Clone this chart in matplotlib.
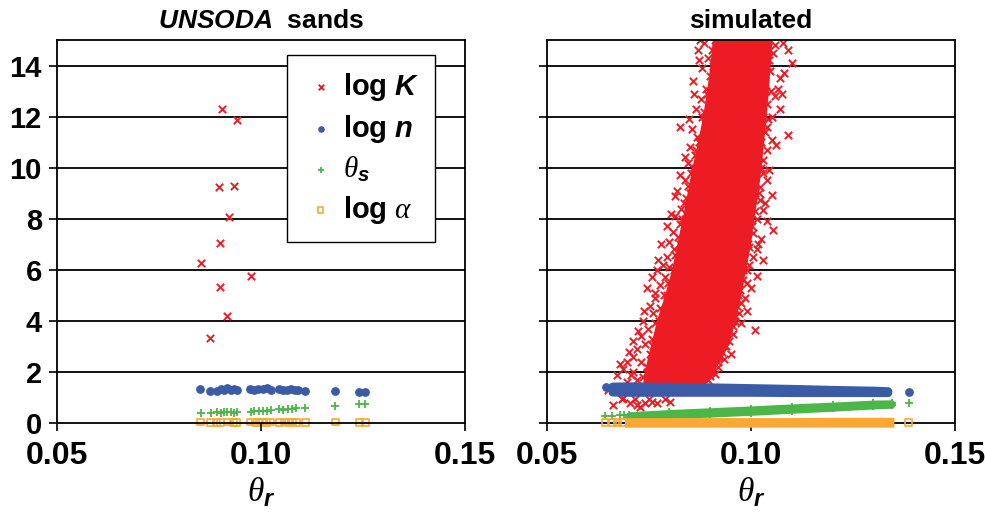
import numpy as np
import matplotlib
matplotlib.use("Agg")
import matplotlib.pyplot as plt

plt.rcParams['font.family'] = ['Liberation Sans', 'DejaVu Sans']
plt.rcParams['mathtext.fontset'] = 'custom'
plt.rcParams['mathtext.it'] = 'Liberation Sans:italic:bold'
plt.rcParams['mathtext.rm'] = 'Liberation Serif:italic'

RED, BLUE, GREEN, ORANGE = '#ED1C24', '#3B5BA7', '#4DB648', '#F9A832'

# ---- UNSODA sands (left) ----
uns_K_x = [0.0904, 0.0940, 0.0897, 0.0934, 0.0922, 0.0899, 0.0852, 0.0975, 0.0900, 0.0916, 0.0876]
uns_K_y = [12.30, 11.86, 9.23, 9.27, 8.05, 7.07, 6.27, 5.76, 5.32, 4.21, 3.32]

uns_n_x = [0.0850, 0.0875, 0.0893, 0.0901, 0.0909, 0.0917, 0.0926, 0.0934, 0.0940, 0.0973, 0.0983, 0.0993,
           0.1004, 0.1014, 0.1024, 0.1045, 0.1055, 0.1063, 0.1073, 0.1083, 0.1091, 0.1109, 0.1182, 0.1241, 0.1256]
uns_n_y = [1.33, 1.27, 1.25, 1.33, 1.30, 1.36, 1.28, 1.34, 1.31, 1.33, 1.30, 1.35,
           1.32, 1.36, 1.30, 1.35, 1.31, 1.30, 1.33, 1.28, 1.30, 1.25, 1.24, 1.22, 1.21]

uns_ts_x = [0.0852, 0.0877, 0.0893, 0.0901, 0.0909, 0.0917, 0.0926, 0.0934, 0.0940, 0.0975, 0.0983, 0.0995,
            0.1004, 0.1014, 0.1024, 0.1045, 0.1055, 0.1065, 0.1075, 0.1085, 0.1109, 0.1182, 0.1241, 0.1256]
uns_ts_y = [0.40, 0.40, 0.42, 0.40, 0.45, 0.42, 0.44, 0.40, 0.43, 0.44, 0.48, 0.46,
            0.49, 0.47, 0.50, 0.55, 0.52, 0.56, 0.54, 0.57, 0.60, 0.68, 0.73, 0.74]

uns_a_x = [0.0852, 0.0877, 0.0890, 0.0901, 0.0917, 0.0932, 0.0940, 0.0975, 0.0985, 0.0995, 0.1004,
           0.1014, 0.1024, 0.1045, 0.1057, 0.1067, 0.1077, 0.1087, 0.1109, 0.1182, 0.1241, 0.1256]
uns_a_y = [0.04, 0.03, 0.03, 0.01, 0.04, 0.02, 0.03, 0.04, 0.03, 0.02, 0.04,
           0.03, 0.04, 0.03, 0.04, 0.03, 0.04, 0.03, 0.03, 0.04, 0.03, 0.03]

# ---- simulated (right) ----
# dense core of the log K cloud: y level, left and right edge
sim_K_core_y = [1.4, 2.0, 3.0, 4.0, 5.0, 6.0, 7.0, 8.0, 9.0, 10.0, 11.0, 12.0, 13.0, 14.0, 15.0]
sim_K_core_l = [0.0740, 0.0745, 0.0760, 0.0775, 0.0795, 0.0812, 0.0825, 0.0838, 0.0850, 0.0862, 0.0876,
                0.0888, 0.0898, 0.0906, 0.0912]
sim_K_core_r = [0.0870, 0.0900, 0.0935, 0.0955, 0.0968, 0.0980, 0.0992, 0.1000, 0.1010, 0.1018, 0.1024,
                0.1030, 0.1036, 0.1040, 0.1045]
# scattered points round the core (outer fringe)
sim_K_x = [0.0885, 0.0870, 0.0895, 0.0880, 0.0858, 0.0890, 0.0878, 0.0866, 0.0880, 0.0826, 0.0855, 0.0868,
           0.0850, 0.0862, 0.0845, 0.0852, 0.0838, 0.0819, 0.0840, 0.0828, 0.0815, 0.0826, 0.0808, 0.0798,
           0.0812, 0.0795, 0.0785, 0.0770, 0.0790, 0.0778, 0.0765, 0.0765, 0.0752, 0.0760, 0.0735, 0.0748,
           0.0730, 0.0740, 0.0720, 0.0711, 0.0730, 0.0696, 0.0686, 0.0705, 0.0720, 0.0695,
           0.0650, 0.0662, 0.0686, 0.0703, 0.0684, 0.0757, 0.0801, 0.0728, 0.0740, 0.0770, 0.0715, 0.0750,
           0.0790, 0.0720,
           0.1078, 0.1054, 0.1100, 0.1047, 0.1066, 0.1058, 0.1039, 0.1051, 0.1042, 0.1091, 0.1039, 0.1051,
           0.1039, 0.1030, 0.1029, 0.1040, 0.1022, 0.1051, 0.1022, 0.1029, 0.1015, 0.1054, 0.1005, 0.1017,
           0.1015, 0.1005, 0.0995, 0.1015, 0.0990, 0.0973, 0.0985, 0.0966, 0.0970, 0.0960, 0.1010, 0.0955,
           0.0945, 0.0930, 0.0935, 0.0919, 0.0912, 0.0895, 0.0880,
           0.1000, 0.0960, 0.0930, 0.1030, 0.0875]
sim_K_y = [14.9, 14.6, 14.3, 13.9, 13.4, 13.1, 12.7, 12.3, 12.0, 11.6, 11.5, 11.2,
           10.8, 10.5, 10.2, 9.8, 9.5, 9.1, 8.8, 8.4, 8.1, 7.8, 7.5, 7.1,
           6.8, 6.5, 6.2, 6.0, 5.7, 5.4, 5.1, 4.9, 4.6, 4.3, 4.0, 3.7,
           3.4, 3.1, 2.9, 2.6, 2.4, 2.4, 2.1, 1.9, 1.7, 1.6,
           1.30, 0.71, 0.98, 0.78, 0.94, 0.82, 0.82, 0.63, 0.78, 0.78, 0.95, 0.95,
           0.95, 0.72,
           14.9, 14.5, 14.1, 13.8, 13.1, 12.8, 12.5, 12.0, 11.9, 11.3, 11.6, 11.1,
           10.7, 10.3, 9.8, 9.5, 9.25, 8.94, 8.75, 8.35, 8.0, 7.57, 7.45, 7.0,
           6.8, 6.5, 6.2, 5.76, 5.5, 5.2, 4.9, 4.6, 4.3, 4.0, 3.65, 3.5,
           3.2, 2.8, 2.5, 2.2, 1.92, 1.7, 1.6,
           14.9, 14.95, 14.9, 14.95, 15.0]
# points along the ragged edge of the core
sim_K_edge_x = [0.0905, 0.0900, 0.0893, 0.0884, 0.0872, 0.0866, 0.0858, 0.0846, 0.0836, 0.0832, 0.0820,
                0.0815, 0.0800, 0.0797, 0.0786, 0.0778, 0.0766, 0.0758, 0.0752, 0.0745, 0.0735, 0.0872,
                0.0861, 0.0848, 0.0838, 0.0826, 0.0813, 0.0805, 0.0793, 0.0780, 0.0772, 0.0758, 0.0745,
                0.0738, 0.0722, 0.0712, 0.0700, 0.0680, 0.0672, 0.0710,
                0.1060, 0.1045, 0.1070, 0.1050, 0.1072, 0.1035, 0.1062, 0.1025, 0.1045, 0.1020, 0.1035,
                0.1010, 0.1040, 0.1003, 0.1025, 0.0995, 0.1030, 0.0990, 0.1000, 0.0980, 0.0975, 0.0990,
                0.0962, 0.0955, 0.0975, 0.0940, 0.0950, 0.0925, 0.0918, 0.0905, 0.0900, 0.1090, 0.1082,
                0.1075]
sim_K_edge_y = [14.6, 13.6, 12.9, 12.2, 11.0, 10.7, 10.0, 9.3, 8.6, 8.0, 7.3,
                6.6, 6.1, 5.5, 5.0, 4.5, 3.9, 3.3, 2.7, 2.2, 1.8, 14.2,
                12.9, 11.9, 10.4, 9.7, 8.9, 8.2, 7.7, 7.0, 6.4, 5.7, 5.3,
                4.4, 3.6, 3.2, 2.8, 2.3, 1.9, 2.0,
                14.8, 14.2, 13.5, 13.0, 12.3, 11.4, 10.9, 10.0, 9.9, 9.0, 8.6,
                8.3, 7.9, 7.7, 7.2, 6.9, 6.4, 6.0, 5.3, 5.6, 4.7, 4.4,
                4.2, 3.8, 3.9, 3.0, 2.7, 2.6, 2.4, 2.1, 1.85, 14.6, 13.7,
                12.9]

# dense bands: x, upper and lower edge
sim_n_band_x = [0.0660, 0.0700, 0.0800, 0.0900, 0.1000, 0.1100, 0.1200, 0.1300, 0.1335]
sim_n_band_hi = [1.44, 1.45, 1.43, 1.41, 1.38, 1.35, 1.31, 1.28, 1.26]
sim_n_band_lo = [1.22, 1.21, 1.21, 1.21, 1.21, 1.20, 1.20, 1.20, 1.20]
sim_n_x = [0.0645, 0.1387]
sim_n_y = [1.43, 1.22]

sim_ts_band_x = [0.0700, 0.0800, 0.0900, 0.1000, 0.1100, 0.1200, 0.1300, 0.1345]
sim_ts_band_hi = [0.33, 0.42, 0.49, 0.56, 0.64, 0.71, 0.79, 0.80]
sim_ts_band_lo = [0.22, 0.28, 0.34, 0.41, 0.49, 0.57, 0.66, 0.69]
sim_ts_x = [0.0642, 0.0660, 0.0680, 0.0690, 0.1387]
sim_ts_y = [0.27, 0.27, 0.30, 0.30, 0.80]

sim_a_band_x = [0.0700, 0.0800, 0.0900, 0.1000, 0.1100, 0.1200, 0.1300, 0.1340]
sim_a_band_hi = [0.05, 0.05, 0.05, 0.05, 0.05, 0.06, 0.06, 0.06]
sim_a_band_lo = [0.00, 0.00, 0.00, 0.00, 0.00, 0.00, 0.00, 0.00]
sim_a_x = [0.0642, 0.0660, 0.0672, 0.0686, 0.1387]
sim_a_y = [0.03, 0.03, 0.03, 0.03, 0.02]

fig = plt.figure(figsize=(9.85, 5.2), dpi=100)
ax1 = fig.add_axes([0.0579, 0.1865, 0.4142, 0.7365])
ax2 = fig.add_axes([0.5553, 0.1865, 0.4142, 0.7365])

mk = dict(K=dict(marker='x', s=28, c=RED, linewidths=1.4),
          n=dict(marker='o', s=40, c=BLUE, linewidths=0, clip_on=False),
          ts=dict(marker='+', s=34, c=GREEN, linewidths=1.3, clip_on=False),
          a=dict(marker='s', s=24, facecolors='none', edgecolors=ORANGE, linewidths=1.2, clip_on=False))

for ax in (ax1, ax2):
    ax.set_xlim(0.05, 0.15)
    ax.set_ylim(0, 15)
    ax.set_xticks([0.05, 0.10, 0.15])
    ax.set_xticklabels(['0.05', '0.10', '0.15'])
    ax.set_yticks(range(0, 15, 2))
    for y in range(2, 15, 2):
        ax.axhline(y, color='#111111', lw=1.4, zorder=0)
    for sp in ax.spines.values():
        sp.set_linewidth(1.3)
    ax.tick_params(direction='out', length=6, width=1.2, labelsize=21, pad=5)
    ax.tick_params(axis='x', labelsize=23, pad=7)
    for lab in ax.get_xticklabels() + ax.get_yticklabels():
        lab.set_fontweight('bold')
    ax.set_xlabel(r'$\mathrm{\theta}_{r}$', fontsize=24, labelpad=3)

ax2.set_yticklabels([])

# left panel
ax1.scatter(uns_K_x, uns_K_y, label='log $K$', **mk['K'])
ax1.scatter(uns_n_x, uns_n_y, label='log $n$', **mk['n'])
ax1.scatter(uns_ts_x, uns_ts_y, label=r'$\mathrm{\theta}_{s}$', **mk['ts'])
ax1.scatter(uns_a_x, uns_a_y, label=r'log $\mathrm{\alpha}$', **mk['a'])
ax1.set_title('$UNSODA$  sands', fontsize=19, fontweight='bold', pad=9)

leg = ax1.legend(loc='upper left', bbox_to_anchor=(0.564, 0.961), borderaxespad=0,
                 prop=dict(size=21, weight='bold'), frameon=True, fancybox=False,
                 edgecolor='black', framealpha=1, handletextpad=0.15, labelspacing=0.33,
                 borderpad=0.55, handlelength=1.2, markerscale=0.75)
leg.get_frame().set_linewidth(1.0)

# right panel
ax2.fill_betweenx(sim_K_core_y, sim_K_core_l, sim_K_core_r, color=RED, lw=4, ec=RED,
                  joinstyle='round', zorder=1)
ax2.scatter(sim_K_core_l + sim_K_core_r, sim_K_core_y + sim_K_core_y, zorder=1, **mk['K'])
ax2.scatter(sim_K_edge_x, sim_K_edge_y, zorder=1, **mk['K'])
ax2.scatter(sim_K_x, sim_K_y, zorder=1, **mk['K'])

ax2.fill_between(sim_n_band_x, sim_n_band_lo, sim_n_band_hi, color=BLUE, lw=6, ec=BLUE,
                 joinstyle='round', capstyle='round', zorder=2)
ax2.scatter(sim_n_x, sim_n_y, zorder=2, **mk['n'])

ax2.fill_between(sim_ts_band_x, sim_ts_band_lo, sim_ts_band_hi, color=GREEN, lw=4, ec=GREEN,
                 joinstyle='round', zorder=3)
ax2.scatter(sim_ts_band_x + sim_ts_band_x, sim_ts_band_hi + sim_ts_band_lo, zorder=3, **mk['ts'])
ax2.scatter(sim_ts_x, sim_ts_y, zorder=3, **mk['ts'])

ax2.fill_between(sim_a_band_x, sim_a_band_lo, sim_a_band_hi, color=ORANGE, lw=6, ec=ORANGE,
                 joinstyle='miter', zorder=4, clip_on=False)
ax2.scatter(sim_a_x, sim_a_y, zorder=4, **mk['a'])
ax2.set_title('simulated', fontsize=19, fontweight='bold', pad=9)

fig.savefig('out.png', dpi=100)
